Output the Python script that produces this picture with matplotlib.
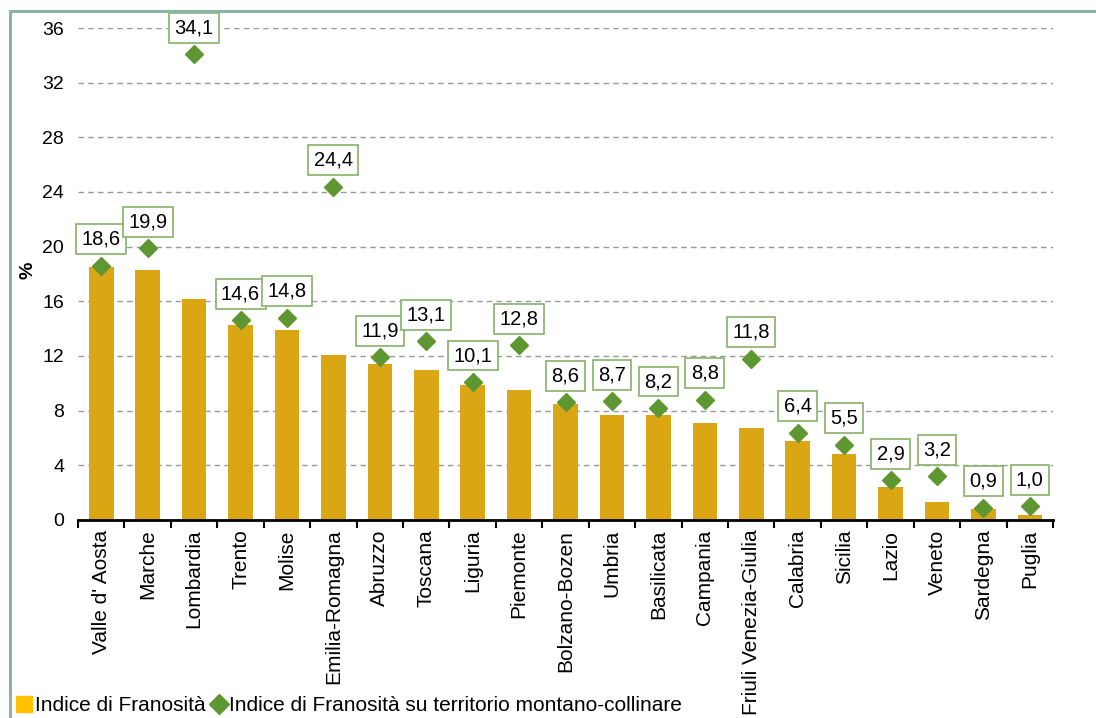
import numpy as np
import matplotlib
matplotlib.use("Agg")
from matplotlib import pyplot as plt
from matplotlib.patches import Rectangle
from matplotlib.lines import Line2D

plt.rcParams['font.family'] = ['Liberation Sans', 'DejaVu Sans']

# regions, sorted as in the chart
regioni = ["Valle d' Aosta", 'Marche', 'Lombardia', 'Trento', 'Molise',
           'Emilia-Romagna', 'Abruzzo', 'Toscana', 'Liguria', 'Piemonte',
           'Bolzano-Bozen', 'Umbria', 'Basilicata', 'Campania',
           'Friuli Venezia-Giulia', 'Calabria', 'Sicilia', 'Lazio', 'Veneto',
           'Sardegna', 'Puglia']

# Indice di Franosita (bars)
indice = [18.5, 18.3, 16.2, 14.3, 13.9, 12.1, 11.4, 11.0, 9.9, 9.5,
          8.5, 7.7, 7.7, 7.1, 6.7, 5.8, 4.8, 2.4, 1.3, 0.8, 0.4]

# Indice su territorio montano-collinare (diamonds, labelled)
montano = [18.6, 19.9, 34.1, 14.6, 14.8, 24.4, 11.9, 13.1, 10.1, 12.8,
           8.6, 8.7, 8.2, 8.8, 11.8, 6.4, 5.5, 2.9, 3.2, 0.9, 1.0]

yticks = [0, 4, 8, 12, 16, 20, 24, 28, 32, 36]

bar_col = '#DBA614'
dia_col = '#5E9732'

fig = plt.figure(figsize=(10.96, 7.18), dpi=100)
ax = fig.add_axes([0.0712, 0.2758, 0.8896, 0.6852])

x = np.arange(len(regioni))
ax.bar(x, indice, width=0.53, color=bar_col, zorder=2)
ax.plot(x, montano, linestyle='none', marker='D', markersize=9,
        color=dia_col, zorder=3)

for xi, v in zip(x, montano):
    ax.annotate(('%.1f' % v).replace('.', ','), (xi, v),
                xytext=(0, 19), textcoords='offset points',
                ha='center', va='center', fontsize=14.5, zorder=4,
                bbox=dict(boxstyle='square,pad=0.27', fc='white',
                          ec='#86B26A', lw=1.2))

ax.set_xlim(-0.5, len(regioni) - 0.5)
ax.set_ylim(0, 36)
ax.set_yticks(yticks)
ax.set_yticklabels([str(t) for t in yticks], fontsize=14)
ax.tick_params(axis='y', length=0, pad=10)
ax.yaxis.grid(True, linestyle=(0, (4, 3)), color='#999999', lw=1, zorder=0)

ax.set_xticks(x)
ax.set_xticklabels(regioni, rotation=90, fontsize=15, va='top')
ax.tick_params(axis='x', which='major', length=0, pad=7)
ax.set_xticks(np.arange(-0.5, len(regioni)), minor=True)
ax.tick_params(axis='x', which='minor', length=6, width=1.5, direction='out')

for s in ['top', 'right', 'left']:
    ax.spines[s].set_visible(False)
ax.spines['bottom'].set_linewidth(2)
ax.spines['bottom'].set_zorder(5)

fig.text(0.026, 0.624, '%', rotation=90, fontsize=14, fontweight='bold',
         ha='center', va='center')

# legend at bottom left
handles = [Line2D([], [], linestyle='none', marker='s', markersize=12,
                  color='#FFC000'),
           Line2D([], [], linestyle='none', marker='D', markersize=10,
                  color=dia_col)]
fig.legend(handles, ['Indice di Franosità',
                     'Indice di Franosità su territorio montano-collinare'],
           loc='lower left', bbox_to_anchor=(0.008, -0.008), ncol=2,
           frameon=False, fontsize=15, handlelength=0.7, handletextpad=0.15,
           columnspacing=0.3, borderaxespad=0)

# greenish frame around the chart
fig.patches.append(Rectangle((10 / 1096, -0.1), 1.2, 1.1 - 11 / 718,
                             transform=fig.transFigure, fill=False,
                             ec='#8CB4A4', lw=2.2))

fig.savefig('out.png', dpi=100)
